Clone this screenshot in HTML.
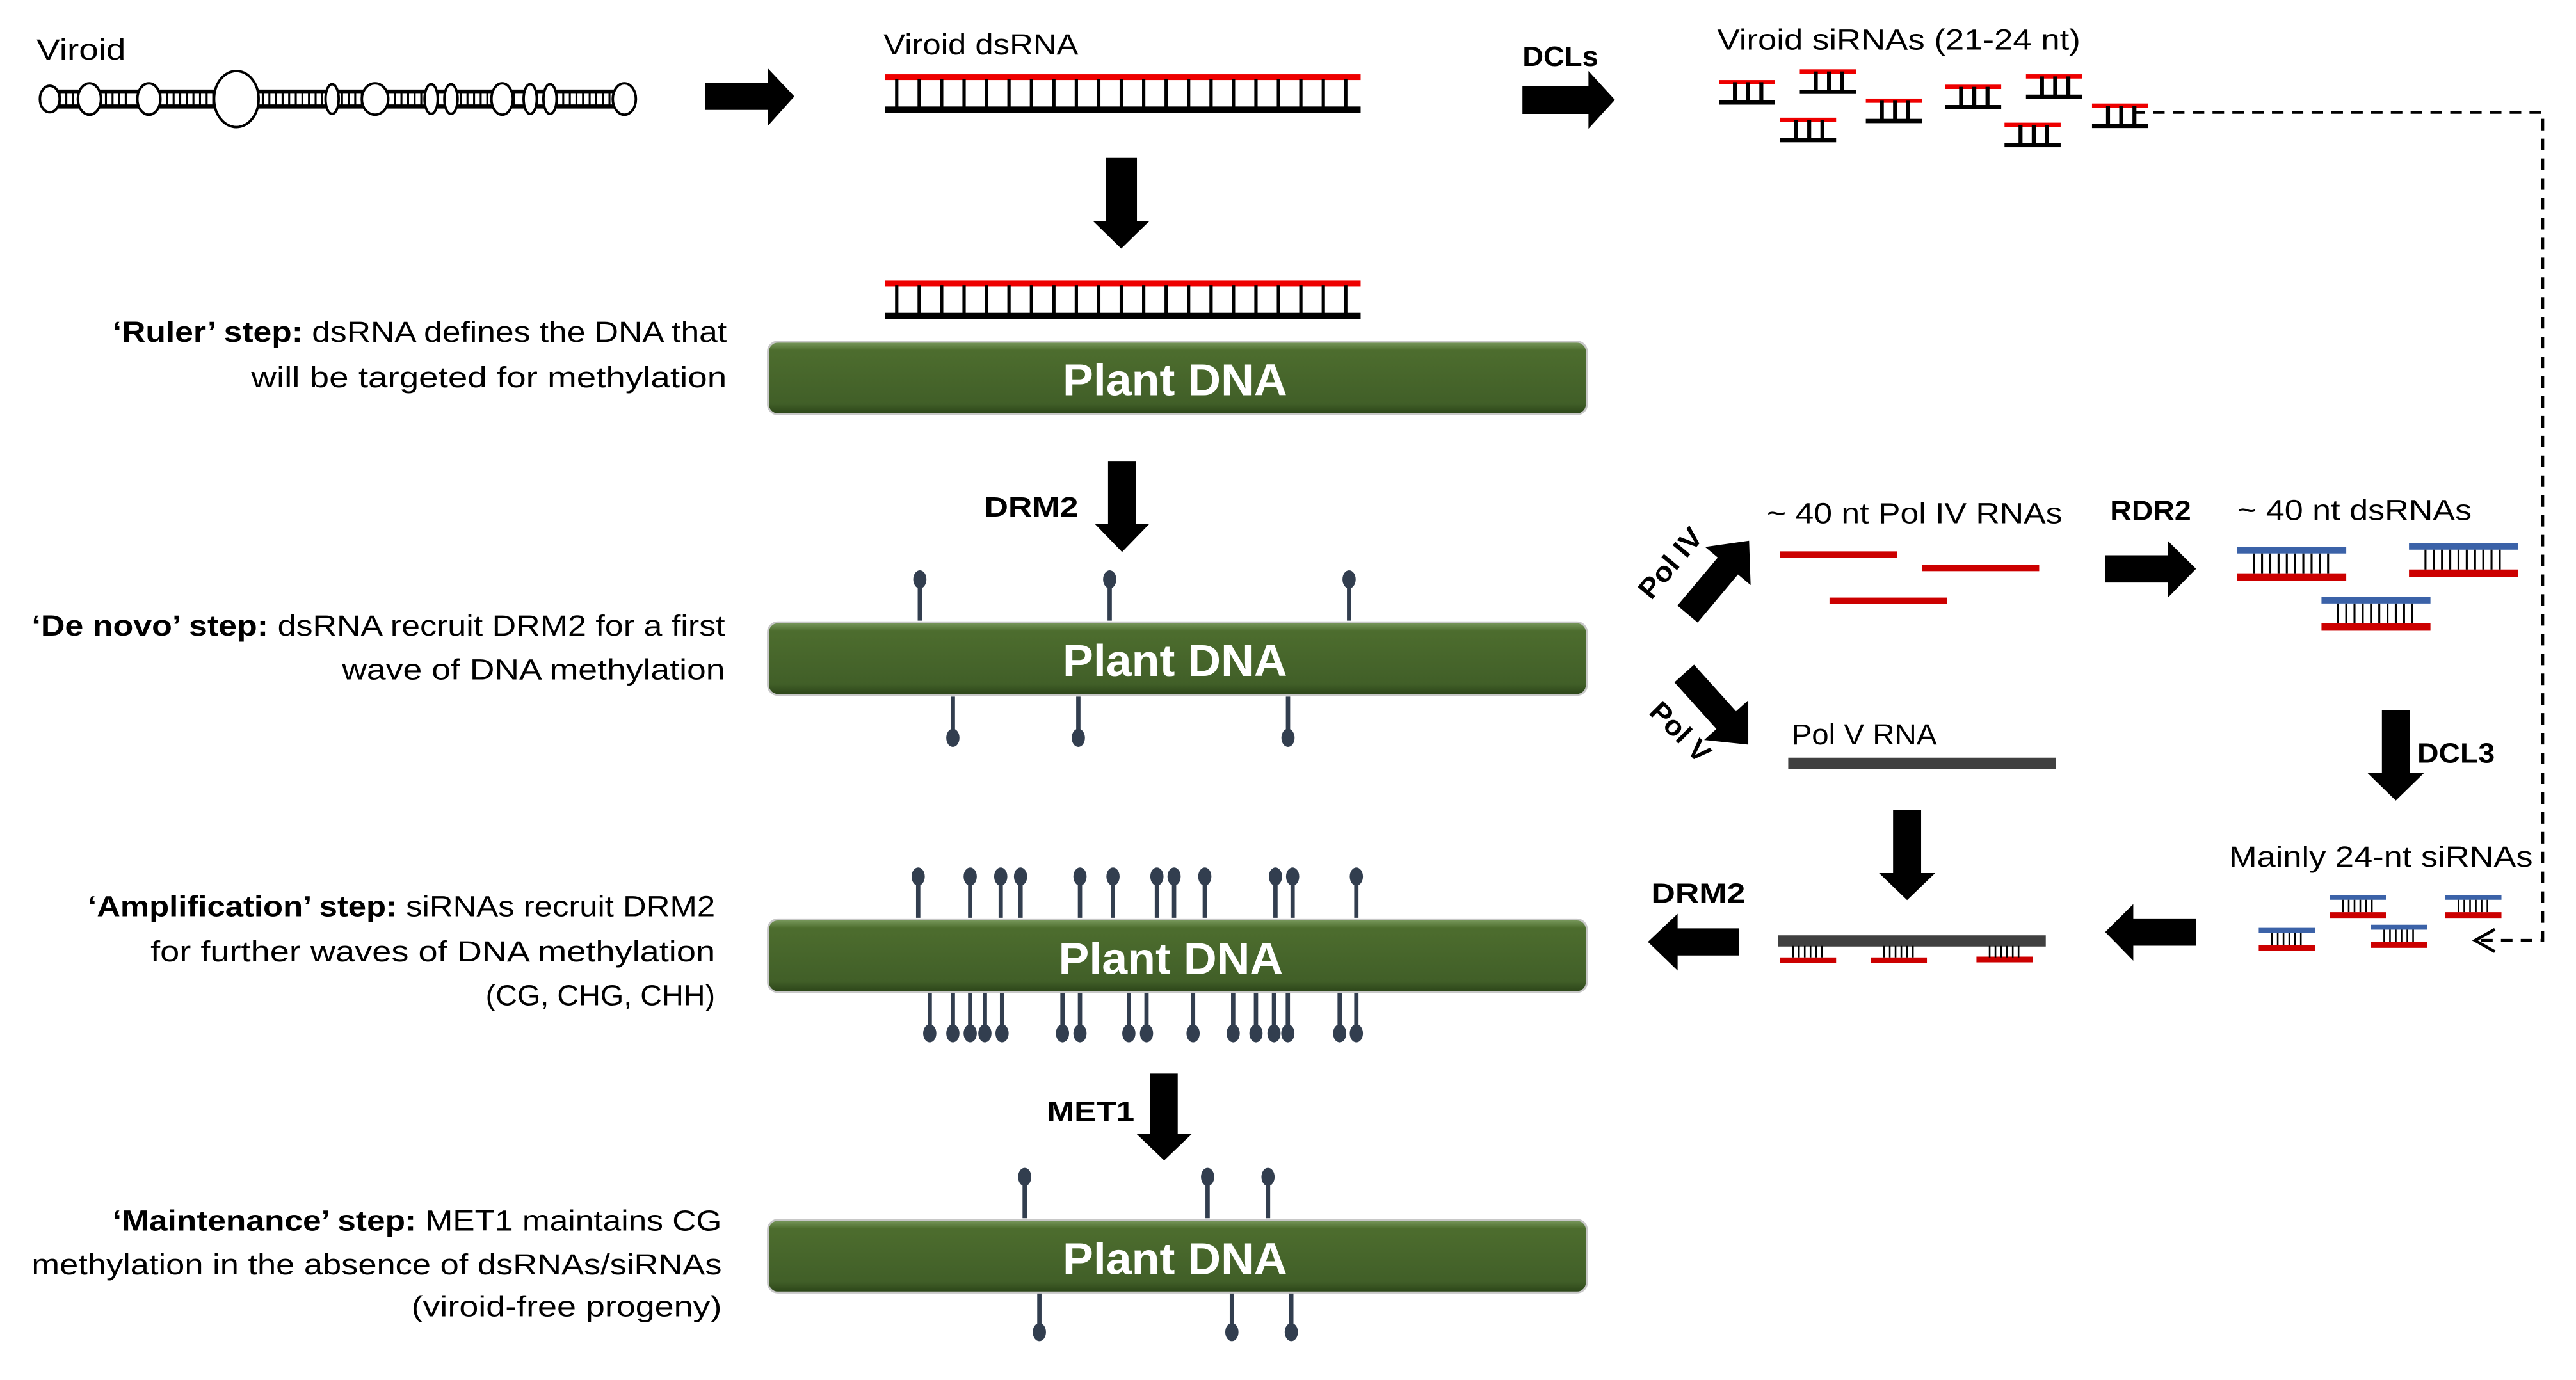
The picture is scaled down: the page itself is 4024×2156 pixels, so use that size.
<!DOCTYPE html>
<html><head><meta charset="utf-8"><style>
html,body{margin:0;padding:0;background:#fff;}
svg{display:block;}
text{font-family:"Liberation Sans",sans-serif;}
</style></head><body>
<svg width="4024" height="2156" viewBox="0 0 1560 836" xmlns="http://www.w3.org/2000/svg">
<defs>
<linearGradient id="g" x1="0" y1="0" x2="0" y2="1">
<stop offset="0" stop-color="#7a9a5e"/><stop offset="0.12" stop-color="#4d6d2e"/>
<stop offset="0.85" stop-color="#415f28"/><stop offset="1" stop-color="#2b4418"/>
</linearGradient>
<g id="pinU"><line x1="0" y1="0" x2="0" y2="-24" stroke="#323e4f" stroke-width="2.6"/><ellipse cx="0" cy="-25" rx="4" ry="5.5" fill="#323e4f"/></g>
<g id="pinD"><line x1="0" y1="0" x2="0" y2="24" stroke="#323e4f" stroke-width="2.6"/><ellipse cx="0" cy="25" rx="4" ry="5.5" fill="#323e4f"/></g>
<g id="si"><rect x="0" y="-1.3" width="34" height="2.6" fill="#e00"/><rect x="0" y="11" width="34" height="2.6" fill="#000"/>
<rect x="8.5" y="0" width="2.4" height="12" fill="#000"/><rect x="16.5" y="0" width="2.4" height="12" fill="#000"/><rect x="24.5" y="0" width="2.4" height="12" fill="#000"/></g>
<g id="ds40"><rect x="0" y="-2" width="66" height="4" fill="#3b62a8"/><rect x="0" y="14" width="66" height="4.5" fill="#c00"/>
<path d="M10 2V14M15 2V14M20 2V14M25 2V14M30 2V14M35 2V14M40 2V14M45 2V14M50 2V14M55 2V14" stroke="#000" stroke-width="1.2"/></g>
<g id="si24"><rect x="0" y="-1.5" width="34" height="3" fill="#3b62a8"/><rect x="0" y="9" width="34" height="3.5" fill="#c00"/>
<path d="M8 1.5V9M11.5 1.5V9M15 1.5V9M18.5 1.5V9M22 1.5V9M25.5 1.5V9" stroke="#000" stroke-width="1"/></g>
<g id="bar"><rect x="465" y="0" width="496" height="44" rx="6" fill="url(#g)" stroke="#c8c8c8" stroke-width="1.2"/></g>
</defs>

<!-- Viroid -->
<text x="22" y="36" font-size="17.5" textLength="54" lengthAdjust="spacingAndGlyphs">Viroid</text>
<g stroke="#000" fill="#fff">
<line x1="28" y1="55.5" x2="382" y2="55.5" stroke-width="2.5"/>
<line x1="28" y1="64.5" x2="382" y2="64.5" stroke-width="2.5"/>
<path d="M36 56V64M40 56V64M44 56V64M60 56V64M64 56V64M68 56V64M72 56V64M76 56V64M97 56V64M101 56V64M105 56V64M109 56V64M113 56V64M117 56V64M121 56V64M125 56V64M129 56V64M159 56V64M163 56V64M167 56V64M171 56V64M175 56V64M179 56V64M183 56V64M187 56V64M191 56V64M195 56V64M207 56V64M211 56V64M215 56V64M219 56V64M235 56V64M239 56V64M243 56V64M247 56V64M251 56V64M255 56V64M279 56V64M283 56V64M287 56V64M291 56V64M295 56V64M311 56V64M341 56V64M345 56V64M349 56V64M353 56V64M357 56V64M361 56V64M365 56V64M369 56V64" stroke-width="1.2"/>
<ellipse cx="30" cy="60" rx="6" ry="8" stroke-width="1.5"/>
<ellipse cx="54" cy="60" rx="7" ry="9.5" stroke-width="1.5"/>
<ellipse cx="90" cy="60" rx="7" ry="9.5" stroke-width="1.5"/>
<ellipse cx="143" cy="60" rx="13.5" ry="17" stroke-width="1.5"/>
<ellipse cx="201" cy="60" rx="4" ry="9" stroke-width="1.5"/>
<ellipse cx="227" cy="60" rx="8" ry="9.5" stroke-width="1.5"/>
<ellipse cx="261" cy="60" rx="4" ry="9" stroke-width="1.5"/>
<ellipse cx="273" cy="60" rx="4" ry="9" stroke-width="1.5"/>
<ellipse cx="304" cy="60" rx="6.5" ry="9.5" stroke-width="1.5"/>
<ellipse cx="321" cy="60" rx="4" ry="9" stroke-width="1.5"/>
<ellipse cx="333" cy="60" rx="4" ry="9" stroke-width="1.5"/>
<ellipse cx="378" cy="60" rx="7" ry="9.5" stroke-width="1.5"/>
</g>
<!-- arrow right 1 -->
<path d="M427 50.2H465V41.5L481 58.4L465 76.2V66.6H427Z" fill="#000"/>

<!-- Viroid dsRNA -->
<text x="535" y="33" font-size="17.5" textLength="118" lengthAdjust="spacingAndGlyphs">Viroid dsRNA</text>
<g id="dsr">
<rect x="536" y="45" width="288" height="3.5" fill="#e00"/>
<rect x="536" y="64.5" width="288" height="3.8" fill="#000"/>
<path d="M543 48V65M556.6 48V65M570.2 48V65M583.8 48V65M597.4 48V65M611 48V65M624.6 48V65M638.2 48V65M651.8 48V65M665.4 48V65M679 48V65M692.6 48V65M706.2 48V65M719.8 48V65M733.4 48V65M747 48V65M760.6 48V65M774.2 48V65M787.8 48V65M801.4 48V65M815 48V65" stroke="#000" stroke-width="2"/>
</g>
<path d="M669.5 95.7H688.5V134H696L679 150.6L662 134H669.5Z" fill="#000"/>
<use href="#dsr" transform="translate(0,125)"/>

<!-- DCLs -->
<text x="922" y="40" font-size="17" font-weight="bold" textLength="46" lengthAdjust="spacingAndGlyphs">DCLs</text>
<path d="M922 52H962V43L978 60.5L962 78V69H922Z" fill="#000"/>
<text x="1040" y="30" font-size="17.5" textLength="220" lengthAdjust="spacingAndGlyphs">Viroid siRNAs (21-24 nt)</text>
<use href="#si" x="1041" y="49.8"/>
<use href="#si" x="1090" y="43.3"/>
<use href="#si" x="1078" y="72.6"/>
<use href="#si" x="1130" y="61"/>
<use href="#si" x="1178" y="52.6"/>
<use href="#si" x="1227" y="46.3"/>
<use href="#si" x="1214" y="75.6"/>
<use href="#si" x="1267" y="64"/>

<!-- dashed -->
<path d="M1292 68H1540V569.7H1502" fill="none" stroke="#000" stroke-width="1.8" stroke-dasharray="7,5"/>
<path d="M1511 563L1499 569.7L1511 576.5" fill="none" stroke="#000" stroke-width="1.8"/>

<!-- Ruler -->
<text x="68" y="207" font-size="17.5" textLength="372" lengthAdjust="spacingAndGlyphs"><tspan font-weight="bold">‘Ruler’ step:</tspan> dsRNA defines the DNA that</text>
<text x="152" y="234.6" font-size="17.5" textLength="288" lengthAdjust="spacingAndGlyphs">will be targeted for methylation</text>
<use href="#bar" y="207"/>
<text x="643.5" y="239.5" font-size="27" font-weight="bold" fill="#fff" textLength="136" lengthAdjust="spacingAndGlyphs">Plant DNA</text>

<!-- DRM2 -->
<text x="596" y="313" font-size="17" font-weight="bold" textLength="57" lengthAdjust="spacingAndGlyphs">DRM2</text>
<path d="M671 279.6H688V317.4H696L679.5 334.4L663 317.4H671Z" fill="#000"/>
<text x="19" y="385" font-size="17.5" textLength="420" lengthAdjust="spacingAndGlyphs"><tspan font-weight="bold">‘De novo’ step:</tspan> dsRNA recruit DRM2 for a first</text>
<text x="207" y="411.6" font-size="17.5" textLength="232" lengthAdjust="spacingAndGlyphs">wave of DNA methylation</text>
<use href="#pinU" x="557" y="376"/><use href="#pinU" x="672" y="376"/><use href="#pinU" x="817" y="376"/>
<use href="#pinD" x="577" y="422"/><use href="#pinD" x="653" y="422"/><use href="#pinD" x="780" y="422"/>
<use href="#bar" y="377"/>
<text x="643.5" y="409.5" font-size="27" font-weight="bold" fill="#fff" textLength="136" lengthAdjust="spacingAndGlyphs">Plant DNA</text>

<!-- Amplification -->
<text x="53" y="555" font-size="17.5" textLength="380" lengthAdjust="spacingAndGlyphs"><tspan font-weight="bold">‘Amplification’ step:</tspan> siRNAs recruit DRM2</text>
<text x="91" y="582.4" font-size="17.5" textLength="342" lengthAdjust="spacingAndGlyphs">for further waves of DNA methylation</text>
<text x="294" y="609" font-size="17.5" textLength="139" lengthAdjust="spacingAndGlyphs">(CG, CHG, CHH)</text>
<g>
<use href="#pinU" x="556" y="556"/><use href="#pinU" x="587.5" y="556"/><use href="#pinU" x="606" y="556"/><use href="#pinU" x="618" y="556"/>
<use href="#pinU" x="654" y="556"/><use href="#pinU" x="674" y="556"/><use href="#pinU" x="700.6" y="556"/><use href="#pinU" x="711" y="556"/>
<use href="#pinU" x="729.6" y="556"/><use href="#pinU" x="772.4" y="556"/><use href="#pinU" x="782.8" y="556"/><use href="#pinU" x="821.4" y="556"/>
<use href="#pinD" x="563" y="601"/><use href="#pinD" x="577" y="601"/><use href="#pinD" x="587.5" y="601"/><use href="#pinD" x="596.4" y="601"/>
<use href="#pinD" x="606.8" y="601"/><use href="#pinD" x="643.4" y="601"/><use href="#pinD" x="654" y="601"/><use href="#pinD" x="683.6" y="601"/>
<use href="#pinD" x="694.3" y="601"/><use href="#pinD" x="722.5" y="601"/><use href="#pinD" x="746.8" y="601"/><use href="#pinD" x="760.6" y="601"/>
<use href="#pinD" x="771.5" y="601"/><use href="#pinD" x="779.9" y="601"/><use href="#pinD" x="811.3" y="601"/><use href="#pinD" x="821.4" y="601"/>
</g>
<use href="#bar" y="557"/>
<text x="641" y="590" font-size="27" font-weight="bold" fill="#fff" textLength="136" lengthAdjust="spacingAndGlyphs">Plant DNA</text>

<!-- MET1 -->
<text x="634" y="679" font-size="17" font-weight="bold" textLength="53" lengthAdjust="spacingAndGlyphs">MET1</text>
<path d="M696.6 650.4H713.2V686.7H722L705 703L688 686.7H696.6Z" fill="#000"/>
<text x="68" y="745.4" font-size="17.5" textLength="369" lengthAdjust="spacingAndGlyphs"><tspan font-weight="bold">‘Maintenance’ step:</tspan> MET1 maintains CG</text>
<text x="19" y="772" font-size="17.5" textLength="418" lengthAdjust="spacingAndGlyphs">methylation in the absence of dsRNAs/siRNAs</text>
<text x="249" y="797.5" font-size="17.5" textLength="188" lengthAdjust="spacingAndGlyphs">(viroid-free progeny)</text>
<use href="#pinU" x="620.5" y="738"/><use href="#pinU" x="731.3" y="738"/><use href="#pinU" x="767.9" y="738"/>
<use href="#pinD" x="629.4" y="782"/><use href="#pinD" x="746" y="782"/><use href="#pinD" x="782" y="782"/>
<use href="#bar" y="739"/>
<text x="643.5" y="771.8" font-size="27" font-weight="bold" fill="#fff" textLength="136" lengthAdjust="spacingAndGlyphs">Plant DNA</text>

<!-- Right pathway -->
<path d="M0 -8H38V-18L58 0L38 18V8H0Z" fill="#000" transform="translate(1022,372) rotate(-50)"/>
<path d="M0 -8H38V-18L58 0L38 18V8H0Z" fill="#000" transform="translate(1020,408) rotate(48)"/>
<text font-size="17" font-weight="bold" transform="translate(1000,364) rotate(-50)" textLength="50" lengthAdjust="spacingAndGlyphs">Pol IV</text>
<text font-size="17" font-weight="bold" transform="translate(998,432) rotate(45)" textLength="44" lengthAdjust="spacingAndGlyphs">Pol V</text>

<text x="1070" y="317" font-size="17.5" textLength="179" lengthAdjust="spacingAndGlyphs">~ 40  nt Pol IV RNAs</text>
<rect x="1078" y="334" width="71" height="4" fill="#c00"/>
<rect x="1164" y="342" width="71" height="4" fill="#c00"/>
<rect x="1108" y="362" width="71" height="4" fill="#c00"/>

<text x="1278" y="315" font-size="17" font-weight="bold" textLength="49" lengthAdjust="spacingAndGlyphs">RDR2</text>
<path d="M1275 336.4H1313V327.7L1330 344.6L1313 362V352.9H1275Z" fill="#000"/>
<text x="1355" y="315" font-size="17.5" textLength="142" lengthAdjust="spacingAndGlyphs">~ 40  nt dsRNAs</text>
<use href="#ds40" x="1355" y="333.3"/>
<use href="#ds40" x="1459" y="331"/>
<use href="#ds40" x="1406" y="363.6"/>

<path d="M1442.6 430.2H1459.4V468.4H1468L1451 485L1434 468.4H1442.6Z" fill="#000"/>
<text x="1464" y="462" font-size="17" font-weight="bold" textLength="47" lengthAdjust="spacingAndGlyphs">DCL3</text>

<text x="1350" y="525" font-size="17.5" textLength="184" lengthAdjust="spacingAndGlyphs">Mainly 24-nt siRNAs</text>
<use href="#si24" x="1411" y="543.6"/>
<use href="#si24" x="1481" y="543.6"/>
<use href="#si24" x="1368" y="563.6"/>
<use href="#si24" x="1436" y="561.7"/>

<path d="M1330 556.4H1292V547.7L1275 564.6L1292 582V572.9H1330Z" fill="#000"/>

<text x="1085" y="451" font-size="17.5" textLength="88" lengthAdjust="spacingAndGlyphs">Pol V RNA</text>
<rect x="1083" y="459" width="162" height="7" fill="#404040"/>
<path d="M1146.5 490.8H1163.5V528.9H1172L1155 545.3L1138 528.9H1146.5Z" fill="#000"/>

<rect x="1077" y="566.6" width="162" height="6.8" fill="#404040"/>
<g>
<rect x="1078" y="580" width="34" height="3.5" fill="#c00"/>
<rect x="1133" y="580" width="34" height="3.5" fill="#c00"/>
<rect x="1197" y="579.5" width="34" height="3.5" fill="#c00"/>
<path d="M1086 573V580M1089.5 573V580M1093 573V580M1096.5 573V580M1100 573V580M1103.5 573V580M1141 573V580M1144.5 573V580M1148 573V580M1151.5 573V580M1155 573V580M1158.5 573V580M1205 573V580M1208.5 573V580M1212 573V580M1215.5 573V580M1219 573V580M1222.5 573V580" stroke="#000" stroke-width="1"/>
</g>
<text x="1000" y="547" font-size="17" font-weight="bold" textLength="57" lengthAdjust="spacingAndGlyphs">DRM2</text>
<path d="M1053 562.4H1016V553.5L998 570.6L1016 588V578.8H1053Z" fill="#000"/>
</svg>
</body></html>
